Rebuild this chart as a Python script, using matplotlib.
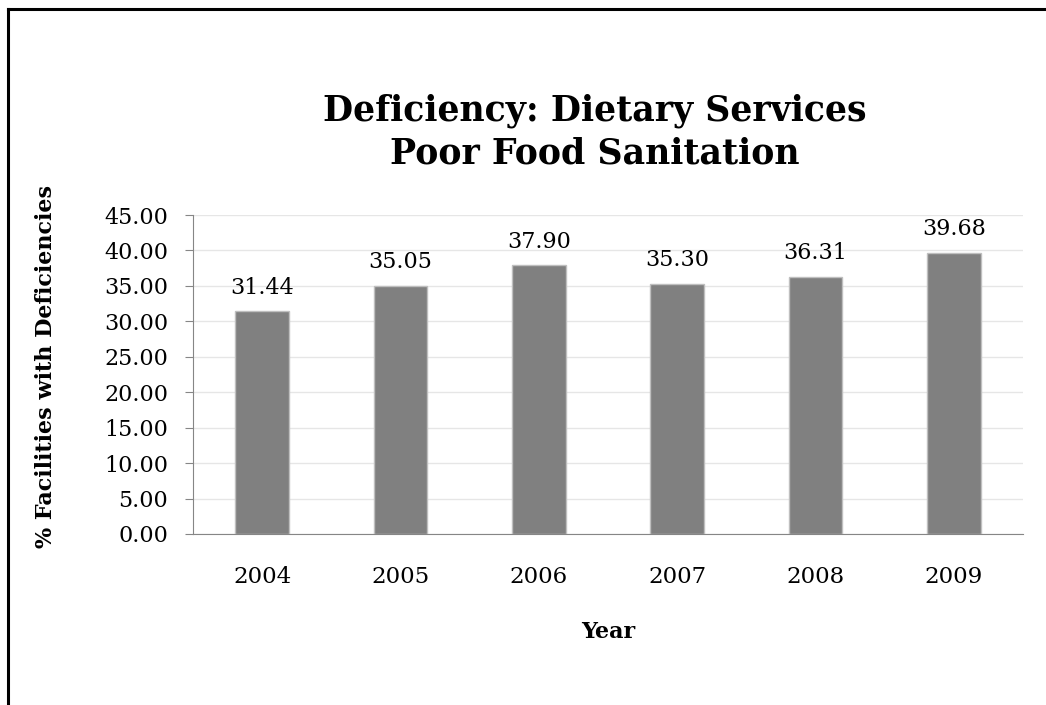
import numpy as np
import matplotlib.pyplot as plt
from matplotlib.lines import Line2D

# 数据
years = ['2004', '2005', '2006', '2007', '2008', '2009']
values = [31.44, 35.05, 37.90, 35.30, 36.31, 39.68]
y_ticks = np.arange(0, 45.01, 5)

plt.rcParams['font.family'] = ['DejaVu Serif']

fig = plt.figure(figsize=(10.46, 7.05), dpi=100)
ax = fig.add_axes([193 / 1046, 1 - 534 / 705, 830 / 1046, 319 / 705])

x = np.arange(len(years))
ax.bar(x, values, width=0.39, color='#808080', edgecolor='#bfbfbf', linewidth=1, zorder=3)

for xi, v in zip(x, values):
    ax.annotate(f'{v:.2f}', (xi, v), xytext=(0, 9), textcoords='offset points',
                ha='center', va='bottom', fontsize=16)

ax.set_xlim(-0.5, len(years) - 0.5)
ax.set_ylim(0, 45)
ax.set_yticks(y_ticks)
ax.set_yticklabels([f'{t:.2f}' for t in y_ticks], fontsize=16)
ax.set_xticks(x)
ax.set_xticklabels(years, fontsize=16.5)
ax.tick_params(axis='x', length=0, pad=23)
ax.tick_params(axis='y', length=6, color='#868686', pad=12)
ax.yaxis.grid(True, color='#e6e6e6', linewidth=1, zorder=0)
ax.set_axisbelow(True)

for side in ['top', 'right']:
    ax.spines[side].set_visible(False)
ax.spines['left'].set_color('#868686')
ax.spines['bottom'].set_color('#868686')

ax.set_xlabel('Year', fontsize=16, fontweight='bold')
ax.xaxis.set_label_coords(0.5, -(621 - 534) / 319)
ax.set_ylabel('% Facilities with Deficiencies', fontsize=16, fontweight='bold')
ax.yaxis.set_label_coords(-(193 - 57) / 830, (534 - 367) / 319)

fig.text(595 / 1046, 1 - 132 / 705, 'Deficiency: Dietary Services\nPoor Food Sanitation',
         ha='center', va='center', fontsize=25, fontweight='bold', linespacing=1.3)

# 外框 (只见上边和左边)
fig.add_artist(Line2D([8 / 1046, 1], [1 - 9 / 705, 1 - 9 / 705], color='black', linewidth=2.2,
                      transform=fig.transFigure))
fig.add_artist(Line2D([8 / 1046, 8 / 1046], [0, 1 - 9 / 705], color='black', linewidth=2.2,
                      transform=fig.transFigure))

plt.savefig('out.png', dpi=100)
